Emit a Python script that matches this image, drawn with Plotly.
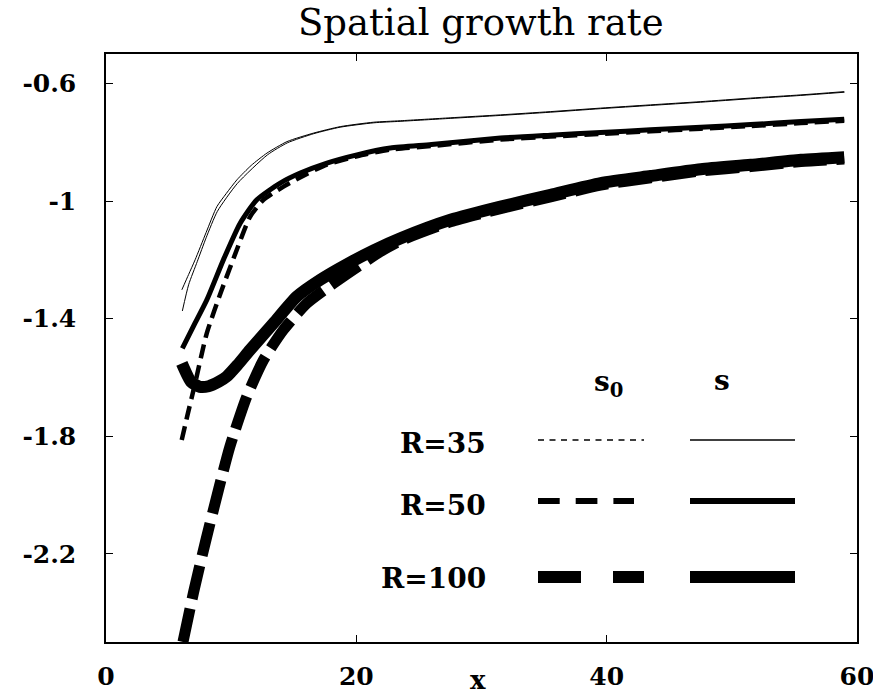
import plotly.graph_objects as go

# ---------------- data ----------------
x35_s = [6.06, 6.6, 7.12, 8.0, 8.86, 9.6, 10.46, 11.6, 12.86, 14.46, 16.58, 18.72, 21.38,
         23.52, 27.5, 31.52, 35.5, 39.52, 43.5, 47.52, 51.5, 55.52, 58.98]
y35_s = [-1.302, -1.25, -1.200, -1.107, -1.019, -0.975, -0.928, -0.879, -0.837, -0.798, -0.769,
         -0.747, -0.732, -0.727, -0.717, -0.707, -0.696, -0.684, -0.673, -0.662, -0.650, -0.639, -0.628]

x35_s0 = [6.1, 6.6, 7.3, 8.0, 8.9, 10.5, 12.9, 14.5, 16.6, 18.7, 21.4, 23.5, 27.5, 31.5,
          35.5, 39.5, 43.5, 47.5, 51.5, 55.5, 59.0]
y35_s0 = [-1.374, -1.285, -1.205, -1.125, -1.035, -0.94, -0.843, -0.802, -0.771, -0.749, -0.734,
          -0.729, -0.719, -0.709, -0.698, -0.686, -0.675, -0.664, -0.652, -0.641, -0.630]

x50_s = [6.1, 7.0, 8.05, 9.39, 10.72, 12.05, 13.92, 15.52, 17.65, 20.05, 22.72, 26.0, 31.52,
         35.5, 39.52, 43.5, 47.52, 51.5, 55.52, 58.98]
y50_s = [-1.501, -1.425, -1.337, -1.199, -1.0755, -0.996, -0.939, -0.905, -0.871, -0.843, -0.820,
         -0.808, -0.786, -0.776, -0.767, -0.758, -0.749, -0.740, -0.730, -0.722]

x50_s0 = [6.05, 6.5, 7.12, 8.05, 9.25, 10.45, 11.52, 12.58, 14.18, 16.05, 17.65, 20.05, 22.72,
          26.0, 31.52, 35.5, 39.52, 43.5, 47.52, 51.5, 55.52, 58.98]
y50_s0 = [-1.813, -1.73, -1.62, -1.45, -1.302, -1.166, -1.053, -0.996, -0.951, -0.908, -0.876,
          -0.848, -0.825, -0.813, -0.791, -0.781, -0.772, -0.763, -0.754, -0.745, -0.735, -0.727]

x100_s = [6.06, 6.8, 7.5, 8.2, 9.0, 9.65, 10.5, 11.52, 13.38, 15.25, 17.12, 19.25, 21.38, 23.52,
          27.52, 31.52, 35.52, 39.52, 43.52, 47.52, 51.52, 55.52, 58.98]
y100_s = [-1.552, -1.615, -1.632, -1.630, -1.615, -1.597, -1.558, -1.506, -1.416, -1.325, -1.268,
          -1.215, -1.168, -1.127, -1.064, -1.019, -0.979, -0.939, -0.915, -0.892, -0.877, -0.860, -0.851]

x100_s0 = [6.15, 7.0, 8.0, 9.0, 9.9, 11.25, 12.59, 14.18, 16.05, 18.18, 20.05, 21.92, 23.52,
           27.52, 31.52, 35.52, 39.52, 43.52, 47.52, 51.52, 55.52, 58.98]
y100_s0 = [-2.50, -2.33, -2.15, -1.98, -1.835, -1.665, -1.540, -1.438, -1.348, -1.280, -1.225,
           -1.172, -1.135, -1.071, -1.026, -0.986, -0.946, -0.921, -0.898, -0.883, -0.866, -0.857]

x_ticks = [0, 20, 40, 60]
y_ticks = [-0.6, -1.0, -1.4, -1.8, -2.2]
y_tick_text = ["-0.6", "-1", "-1.4", "-1.8", "-2.2"]
legend_rows = ["R=35", "R=50", "R=100"]

# ---------------- figure ----------------
W, H = 873, 695
ML, MR, MT, MB = 106, 16, 54, 53
PW, PH = W - ML - MR, H - MT - MB


def px_x(p):
    return (p - ML) / PW


def px_y(p):
    return (H - MB - p) / PH


fig = go.Figure()

curves = [
    (x100_s0, y100_s0, 11, "34px,10px"),
    (x100_s, y100_s, 12, "solid"),
    (x50_s0, y50_s0, 4.5, "14px,7px"),
    (x50_s, y50_s, 5, "solid"),
    (x35_s0, y35_s0, 1, "solid"),
    (x35_s, y35_s, 1, "solid"),
]
for xs, ys, w, d in curves:
    fig.add_trace(go.Scatter(x=xs, y=ys, mode="lines",
                             line=dict(color="black", width=w, dash=d, shape="spline", smoothing=0.6),
                             showlegend=False, hoverinfo="skip"))

serif = "DejaVu Serif"
tickfont = dict(family=serif, size=25, color="black", weight="bold")

fig.update_layout(
    width=W, height=H,
    margin=dict(l=ML, r=MR, t=MT, b=MB, pad=0),
    paper_bgcolor="white", plot_bgcolor="white",
    showlegend=False,
    title=dict(text="Spatial growth rate", x=0.5507, xanchor="center",
               y=1 - 22 / H, yanchor="middle", yref="container",
               font=dict(family=serif, size=37, color="black")),
    xaxis=dict(range=[0, 60], tickvals=x_ticks, ticktext=[str(v) for v in x_ticks],
               ticks="inside", ticklen=7, tickwidth=1, tickcolor="black",
               showline=True, linecolor="black", linewidth=1.5, mirror="ticks",
               showgrid=False, zeroline=False, tickfont=tickfont, ticklabelstandoff=11,
               automargin=False, ticklabeloverflow="allow"),
    yaxis=dict(range=[-2.5, -0.5], tickvals=y_ticks, ticktext=y_tick_text,
               ticks="inside", ticklen=7, tickwidth=1, tickcolor="black",
               showline=True, linecolor="black", linewidth=1.5, mirror="ticks",
               showgrid=False, zeroline=False, tickfont=tickfont, ticklabelstandoff=23,
               automargin=False),
)

# x axis title
fig.add_annotation(text="<b>x</b>", xref="paper", yref="paper", x=px_x(478), y=px_y(680),
                   xanchor="center", yanchor="middle", showarrow=False,
                   font=dict(family=serif, size=26, color="black"))

# legend (drawn inside the plot)
legend_y = [440, 501, 577]
text_y = [443, 505, 578]
s0_ends = [644, 634, 644]
s0_dash = ["6px,5.5px", "21.7px,16px", "43px,32px"]
widths = [1.5, 6, 12]
for name, ly, ty, xe, dd, lw in zip(legend_rows, legend_y, text_y, s0_ends, s0_dash, widths):
    fig.add_annotation(text="<b>%s</b>" % name, xref="paper", yref="paper",
                       x=px_x(488), y=px_y(ty), xanchor="right", yanchor="middle",
                       showarrow=False, font=dict(family=serif, size=28, color="black"))
    fig.add_shape(type="line", xref="paper", yref="paper", x0=px_x(538), x1=px_x(xe),
                  y0=px_y(ly), y1=px_y(ly), line=dict(color="black", width=lw, dash=dd))
    fig.add_shape(type="line", xref="paper", yref="paper", x0=px_x(690), x1=px_x(795),
                  y0=px_y(ly), y1=px_y(ly), line=dict(color="black", width=lw, dash="solid"))

fig.add_annotation(text="<b>s<sub>0</sub></b>", xref="paper", yref="paper", x=px_x(608), y=px_y(383),
                   xanchor="center", yanchor="middle", showarrow=False,
                   font=dict(family=serif, size=28, color="black"))
fig.add_annotation(text="<b>s</b>", xref="paper", yref="paper", x=px_x(722), y=px_y(380),
                   xanchor="center", yanchor="middle", showarrow=False,
                   font=dict(family=serif, size=28, color="black"))

fig.write_html("out.html")
